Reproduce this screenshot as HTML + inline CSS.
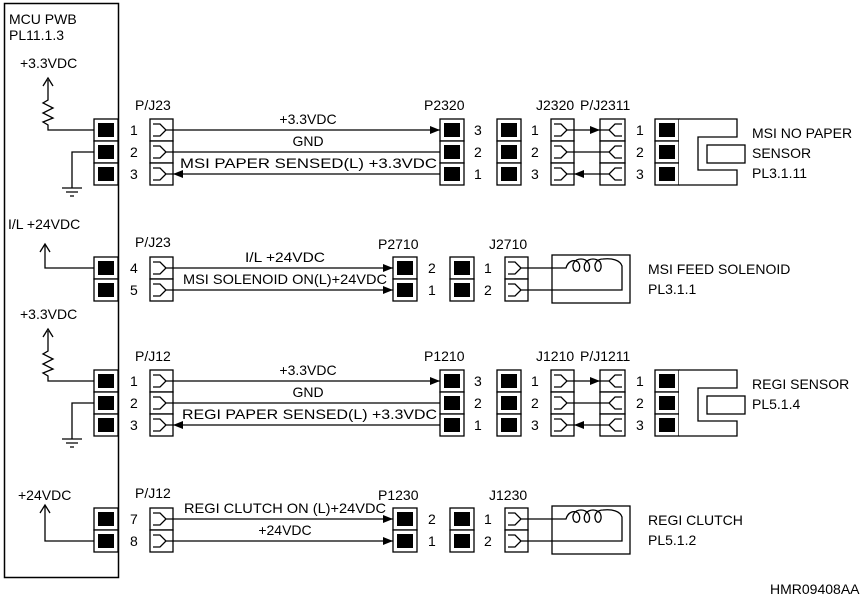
<!DOCTYPE html>
<html><head><meta charset="utf-8"><style>
body{margin:0;background:#fff}
svg{display:block}
text{font-family:"Liberation Sans",sans-serif;font-size:14px;fill:#000}
</style></head><body>
<svg width="860" height="601" viewBox="0 0 860 601" xmlns="http://www.w3.org/2000/svg">
<defs>
<marker id="a" markerWidth="10" markerHeight="8" refX="10" refY="4" orient="auto" markerUnits="userSpaceOnUse"><path d="M0,0 L10,4 L0,8 Z" fill="#000"/></marker>
<g id="bp"><rect x="0" y="0" width="24" height="22" fill="#fff" stroke="#000" stroke-width="1.3"/><rect x="4" y="4" width="16" height="14" fill="#000"/></g>
<g id="fr"><rect x="0" y="0" width="23" height="22" fill="#fff" stroke="#000" stroke-width="1.3"/><path d="M3,5 H10 L16,11 L10,17 H3 M16,11 H23" fill="none" stroke="#000" stroke-width="1.3"/></g>
<g id="fl"><rect x="0" y="0" width="25" height="22" fill="#fff" stroke="#000" stroke-width="1.3"/><path d="M22,5 H15 L9,11 L15,17 H22 M9,11 H0" fill="none" stroke="#000" stroke-width="1.3"/></g>
<g id="sec3">
 <path d="M173,152 H440 M574,152 H600" stroke="#000" stroke-width="1.3" fill="none"/>
 <path d="M173,130 H440" stroke="#000" stroke-width="1.3" marker-end="url(#a)"/>
 <path d="M440,174 H173" stroke="#000" stroke-width="1.3" marker-end="url(#a)"/>
 <path d="M574,130 H600" stroke="#000" stroke-width="1.3" marker-end="url(#a)"/>
 <path d="M600,174 H574" stroke="#000" stroke-width="1.3" marker-end="url(#a)"/>
 <use href="#bp" x="94" y="119"/><use href="#bp" x="94" y="141"/><use href="#bp" x="94" y="163"/>
 <use href="#fr" x="150" y="119"/><use href="#fr" x="150" y="141"/><use href="#fr" x="150" y="163"/>
 <use href="#bp" x="440" y="119"/><use href="#bp" x="440" y="141"/><use href="#bp" x="440" y="163"/>
 <use href="#bp" x="497" y="119"/><use href="#bp" x="497" y="141"/><use href="#bp" x="497" y="163"/>
 <use href="#fr" x="551" y="119"/><use href="#fr" x="551" y="141"/><use href="#fr" x="551" y="163"/>
 <use href="#fl" x="600" y="119"/><use href="#fl" x="600" y="141"/><use href="#fl" x="600" y="163"/>
 <use href="#bp" x="655" y="119"/><use href="#bp" x="655" y="141"/><use href="#bp" x="655" y="163"/>
 <path d="M679,119 H737 V137 H698 V170 H737 V185 H679" fill="#fff" stroke="#000" stroke-width="1.3"/>
 <rect x="707" y="145" width="38" height="18" fill="#fff" stroke="#000" stroke-width="1.3"/>
 <path d="M48,80 V100 L43,103 L53,108 L43,113 L53,118 L43,122 L48,125 V130 H94" fill="none" stroke="#000" stroke-width="1.3"/>
 <path d="M43,86 L48,78 L53,86" fill="none" stroke="#000" stroke-width="1.3"/>
 <path d="M94,152 H72 V188 M62,188 H82 M66,192 H78 M70,196 H74" fill="none" stroke="#000" stroke-width="1.3"/>
 <text x="130" y="135">1</text><text x="130" y="157">2</text><text x="130" y="179">3</text>
 <text x="474" y="135">3</text><text x="474" y="157">2</text><text x="474" y="179">1</text>
 <text x="531" y="135">1</text><text x="531" y="157">2</text><text x="531" y="179">3</text>
 <text x="636" y="135">1</text><text x="636" y="157">2</text><text x="636" y="179">3</text>
 <text x="20" y="68">+3.3VDC</text>
 <text x="308" y="124" text-anchor="middle">+3.3VDC</text>
 <text x="308" y="146" text-anchor="middle">GND</text>
</g>
<g id="sec4">
 <path d="M173,268 H393" stroke="#000" stroke-width="1.3" marker-end="url(#a)"/>
 <path d="M173,290 H393" stroke="#000" stroke-width="1.3" marker-end="url(#a)"/>
 <use href="#bp" x="94" y="257"/><use href="#bp" x="94" y="279"/>
 <use href="#fr" x="150" y="257"/><use href="#fr" x="150" y="279"/>
 <use href="#bp" x="393" y="257"/><use href="#bp" x="393" y="279"/>
 <use href="#bp" x="450" y="257"/><use href="#bp" x="450" y="279"/>
 <use href="#fr" x="505" y="257"/><use href="#fr" x="505" y="279"/>
 <rect x="552" y="255" width="78" height="48" fill="none" stroke="#000" stroke-width="1.3"/>
 <path d="M528,268 H566 C568,261 574,259 578,262 C582,268 578,274 574,270 C571,264 575,259 581,259 C587,259 591,264 589,270 C586,274 582,268 586,262 C590,258 596,258 600,262 C603,268 599,274 596,270 C593,264 597,259 603,259 C612,258 620,260 622,266 V290 H528" fill="none" stroke="#000" stroke-width="1.3"/>
</g>
</defs>

<rect x="4.5" y="3.5" width="114" height="574" fill="none" stroke="#000" stroke-width="1.5"/>
<text x="9" y="24">MCU PWB</text>
<text x="9" y="40">PL11.1.3</text>

<use href="#sec3"/>
<text x="135" y="110">P/J23</text>
<text x="424" y="110">P2320</text>
<text x="536" y="110">J2320</text>
<text x="580" y="110">P/J2311</text>
<text x="180" y="168" textLength="257" lengthAdjust="spacingAndGlyphs">MSI PAPER SENSED(L) +3.3VDC</text>
<text x="752" y="138">MSI NO PAPER</text>
<text x="752" y="158">SENSOR</text>
<text x="752" y="178">PL3.1.11</text>

<use href="#sec4"/>
<path d="M45,245 V268 H94" fill="none" stroke="#000" stroke-width="1.3"/>
<path d="M40,252 L45,244 L50,252" fill="none" stroke="#000" stroke-width="1.3"/>
<text x="8" y="229">I/L +24VDC</text>
<text x="135" y="247">P/J23</text>
<text x="378" y="249">P2710</text>
<text x="489" y="249">J2710</text>
<text x="130" y="273">4</text><text x="130" y="295">5</text>
<text x="428" y="273">2</text><text x="428" y="295">1</text>
<text x="484" y="273">1</text><text x="484" y="295">2</text>
<text x="245" y="262" textLength="80" lengthAdjust="spacingAndGlyphs">I/L +24VDC</text>
<text x="183" y="284" textLength="204" lengthAdjust="spacingAndGlyphs">MSI SOLENOID ON(L)+24VDC</text>
<text x="648" y="274">MSI FEED SOLENOID</text>
<text x="648" y="294">PL3.1.1</text>

<g transform="translate(0,251)"><use href="#sec3"/></g>
<text x="135" y="361">P/J12</text>
<text x="424" y="361">P1210</text>
<text x="536" y="361">J1210</text>
<text x="580" y="361">P/J1211</text>
<text x="182" y="419" textLength="255" lengthAdjust="spacingAndGlyphs">REGI PAPER SENSED(L) +3.3VDC</text>
<text x="752" y="389">REGI SENSOR</text>
<text x="752" y="409">PL5.1.4</text>

<g transform="translate(0,251)"><use href="#sec4"/></g>
<path d="M45,506 V541 H94" fill="none" stroke="#000" stroke-width="1.3"/>
<path d="M40,513 L45,505 L50,513" fill="none" stroke="#000" stroke-width="1.3"/>
<text x="18" y="500">+24VDC</text>
<text x="135" y="498">P/J12</text>
<text x="378" y="500">P1230</text>
<text x="489" y="500">J1230</text>
<text x="130" y="524">7</text><text x="130" y="546">8</text>
<text x="428" y="524">2</text><text x="428" y="546">1</text>
<text x="484" y="524">1</text><text x="484" y="546">2</text>
<text x="184" y="513" textLength="202" lengthAdjust="spacingAndGlyphs">REGI CLUTCH ON (L)+24VDC</text>
<text x="285" y="535" text-anchor="middle">+24VDC</text>
<text x="648" y="525">REGI CLUTCH</text>
<text x="648" y="545">PL5.1.2</text>

<text x="770" y="594">HMR09408AA</text>
</svg>
</body></html>
